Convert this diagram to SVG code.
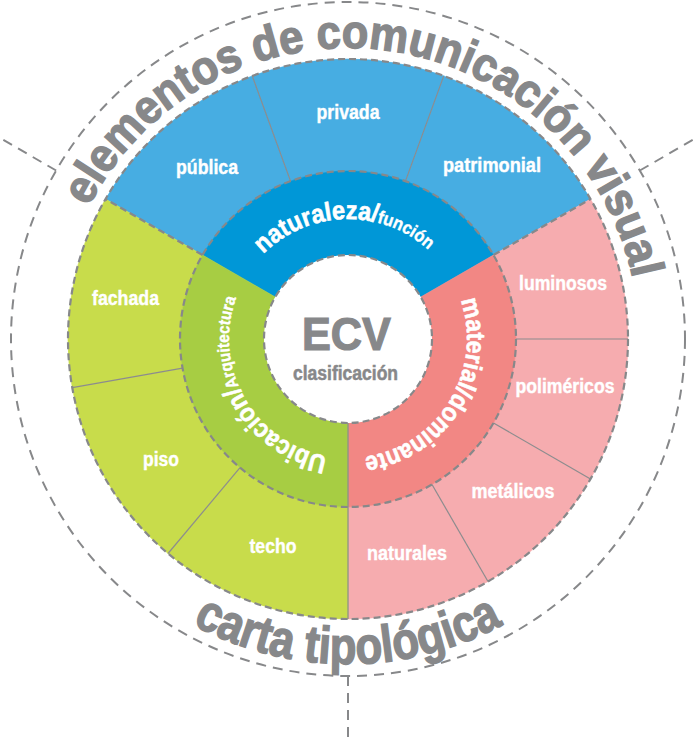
<svg xmlns="http://www.w3.org/2000/svg" width="695" height="740" viewBox="0 0 695 740">
<style>
text{font-family:"Liberation Sans Narrow","Liberation Sans",Arial,sans-serif;font-weight:bold}
.lbl{fill:#fff;stroke:#fff;stroke-width:0.4;font-size:20px;text-anchor:middle}
.ring{fill:#fff;stroke:#fff;stroke-width:0.6;font-size:26px}
.title{fill:#87888A;stroke:#87888A;stroke-width:1.4;font-size:47px}
.ob{fill:#47ADE2;stroke:#47ADE2;stroke-width:0.6}
.ib{fill:#0097D7;stroke:#0097D7;stroke-width:0.6}
.og{fill:#C8DC4B;stroke:#C8DC4B;stroke-width:0.6}
.ig{fill:#A7CD43;stroke:#A7CD43;stroke-width:0.6}
.op{fill:#F6ACAF;stroke:#F6ACAF;stroke-width:0.6}
.ip{fill:#F28784;stroke:#F28784;stroke-width:0.6}
.div{stroke:#8C8C8E;stroke-width:1.2;fill:none}
.dash{stroke:#87888A;stroke-width:2.2;fill:none;stroke-dasharray:7 4}
.dashO{stroke:#87888A;stroke-width:2;fill:none;stroke-dasharray:10 7}
</style>
<defs>
<path id="arcTop" d="M88.72,206.89 A291,291 0 0 1 632.64,278.50"/>
<path id="arcBot" d="M192.43,624.34 A325,325 0 0 0 503.57,624.34"/>
<path id="arcBlue" d="M263.15,254.15 A120,120 0 0 1 428.30,249.82"/>
<path id="arcGreen" d="M327.34,456.19 A119,119 0 0 1 236.18,298.30"/>
<path id="arcPink" d="M460.52,300.26 A119,119 0 0 1 364.56,456.84"/>
</defs>

<g id="publica"><path class="ob" d="M105.51,199 A280,280 0 0 1 252.23,75.89 L290.54,181.13 A168,168 0 0 0 202.51,255 Z"/><text class="lbl" x="207" y="174" textLength="62" lengthAdjust="spacingAndGlyphs">pública</text></g>
<g id="privada"><path class="ob" d="M252.23,75.89 A280,280 0 0 1 443.77,75.89 L405.46,181.13 A168,168 0 0 0 290.54,181.13 Z"/><text class="lbl" x="348" y="119" textLength="63" lengthAdjust="spacingAndGlyphs">privada</text></g>
<g id="patrimonial"><path class="ob" d="M443.77,75.89 A280,280 0 0 1 590.49,199 L493.49,255 A168,168 0 0 0 405.46,181.13 Z"/><text class="lbl" x="492" y="172" textLength="98" lengthAdjust="spacingAndGlyphs">patrimonial</text></g>
<g id="luminosos"><path class="op" d="M590.49,199 A280,280 0 0 1 628,339 L516,339 A168,168 0 0 0 493.49,255 Z"/><text class="lbl" x="563" y="290" textLength="88" lengthAdjust="spacingAndGlyphs">luminosos</text></g>
<g id="polimericos"><path class="op" d="M628,339 A280,280 0 0 1 590.49,479 L493.49,423 A168,168 0 0 0 516,339 Z"/><text class="lbl" x="565" y="393" textLength="99" lengthAdjust="spacingAndGlyphs">poliméricos</text></g>
<g id="metalicos"><path class="op" d="M590.49,479 A280,280 0 0 1 488,581.49 L432,484.49 A168,168 0 0 0 493.49,423 Z"/><text class="lbl" x="513" y="498" textLength="83" lengthAdjust="spacingAndGlyphs">metálicos</text></g>
<g id="naturales"><path class="op" d="M488,581.49 A280,280 0 0 1 348,619 L348,507 A168,168 0 0 0 432,484.49 Z"/><text class="lbl" x="407" y="560" textLength="80" lengthAdjust="spacingAndGlyphs">naturales</text></g>
<g id="techo"><path class="og" d="M348,619 A280,280 0 0 1 168.02,553.49 L240.01,467.69 A168,168 0 0 0 348,507 Z"/><text class="lbl" x="273" y="553" textLength="47" lengthAdjust="spacingAndGlyphs">techo</text></g>
<g id="piso"><path class="og" d="M168.02,553.49 A280,280 0 0 1 72.25,387.62 L182.55,368.17 A168,168 0 0 0 240.01,467.69 Z"/><text class="lbl" x="161" y="466" textLength="36" lengthAdjust="spacingAndGlyphs">piso</text></g>
<g id="fachada"><path class="og" d="M72.25,387.62 A280,280 0 0 1 105.51,199 L202.51,255 A168,168 0 0 0 182.55,368.17 Z"/><text class="lbl" x="125.5" y="305" textLength="67" lengthAdjust="spacingAndGlyphs">fachada</text></g>

<g id="naturaleza"><path class="ib" d="M202.51,255 A168,168 0 0 1 493.49,255 L420.75,297 A84,84 0 0 0 275.25,297 Z"/>
<text class="ring"><textPath href="#arcBlue" textLength="182" lengthAdjust="spacingAndGlyphs">naturaleza/<tspan font-size="18" style="font-size:18px;stroke-width:0.4">función</tspan></textPath></text></g>
<g id="material"><path class="ip" d="M493.49,255 A168,168 0 0 1 348,507 L348,423 A84,84 0 0 0 420.75,297 Z"/>
<text class="ring"><textPath href="#arcPink" textLength="210" lengthAdjust="spacingAndGlyphs">material/dominante</textPath></text></g>
<g id="ubicacion"><path class="ig" d="M348,507 A168,168 0 0 1 202.51,255 L275.25,297 A84,84 0 0 0 348,423 Z"/>
<text class="ring"><textPath href="#arcGreen" textLength="208" lengthAdjust="spacingAndGlyphs">Ubicación/<tspan style="font-size:17px;stroke-width:0.4">Arquitectura</tspan></textPath></text></g>

<g id="center"><circle cx="348" cy="339" r="84" fill="#fff"/>
<text x="346.5" y="350" fill="#87888A" stroke="#87888A" stroke-width="1.2" font-size="46" text-anchor="middle" textLength="89" lengthAdjust="spacingAndGlyphs">ECV</text>
<text x="345.5" y="380" fill="#87888A" stroke="#87888A" stroke-width="0.5" font-size="20" text-anchor="middle" textLength="105" lengthAdjust="spacingAndGlyphs">clasificación</text></g>

<g id="connectors">
<line class="div" x1="290.54" y1="181.13" x2="252.23" y2="75.89"/>
<line class="div" x1="405.46" y1="181.13" x2="443.77" y2="75.89"/>
<line class="div" x1="516" y1="339" x2="628" y2="339"/>
<line class="div" x1="493.49" y1="423" x2="590.49" y2="479"/>
<line class="div" x1="432" y1="484.49" x2="488" y2="581.49"/>
<line class="div" x1="240.01" y1="467.69" x2="168.02" y2="553.49"/>
<line class="div" x1="182.55" y1="368.17" x2="72.25" y2="387.62"/>
<line class="div" x1="348" y1="423" x2="348" y2="619"/>
<line class="dash" x1="202.51" y1="255" x2="105.51" y2="199"/>
<line class="dash" x1="493.49" y1="255" x2="590.49" y2="199"/>
<circle class="dash" cx="348" cy="339" r="84"/>
<circle class="dash" cx="348" cy="339" r="168"/>
<circle class="dash" cx="348" cy="339" r="280"/>
<circle class="dashO" cx="348" cy="339" r="337"/>
<line class="dashO" x1="56.15" y1="170.5" x2="-20" y2="126.5"/>
<line class="dashO" x1="639.85" y1="170.5" x2="716" y2="126.5"/>
<line class="dashO" x1="348" y1="676" x2="348" y2="745"/>
</g>

<g id="titulo"><text class="title"><textPath href="#arcTop" textLength="716" lengthAdjust="spacingAndGlyphs">elementos de comunicación visual</textPath></text></g>
<g id="subtitulo"><text class="title" style="font-size:52px"><textPath href="#arcBot" textLength="324" lengthAdjust="spacingAndGlyphs">carta tipológica</textPath></text></g>
</svg>
